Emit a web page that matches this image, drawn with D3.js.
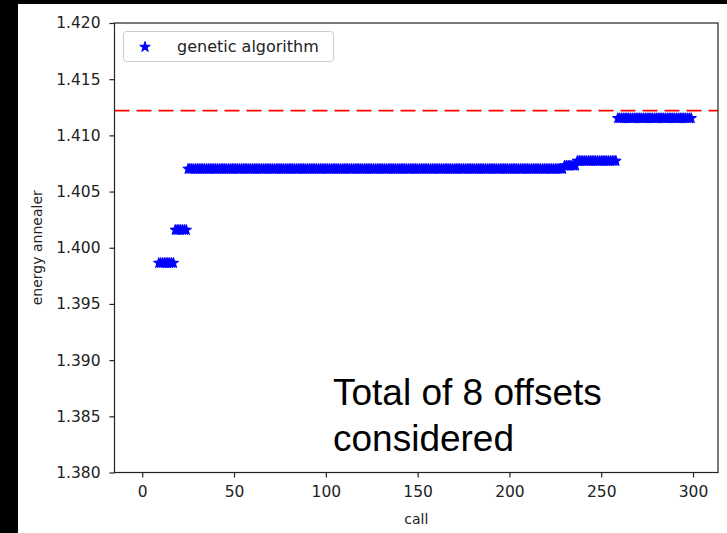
<!DOCTYPE html>
<html><head><meta charset="utf-8">
<script src="https://cdn.jsdelivr.net/npm/d3@7"></script>
<style>html,body{margin:0;padding:0;background:#fff}svg{display:block}</style>
</head><body>
<svg id="c" width="727" height="533"></svg>
<script>
// Data: runs of constant energy found by the genetic algorithm
const runStart  = [9, 18, 25, 230, 237, 259];
const runEnd    = [17, 24, 229, 236, 258, 299];
const runEnergy = [1.39864, 1.40158, 1.40701, 1.40730, 1.40772, 1.41152];
const refEnergy = 1.4122;
const xTicks = [0, 50, 100, 150, 200, 250, 300];
const yTicks = [1.380, 1.385, 1.390, 1.395, 1.400, 1.405, 1.410, 1.415, 1.420];
const seriesName = "genetic algorithm";
const noteLines = ["Total of 8 offsets", "considered"];

const points = [];
runStart.forEach((s, i) => { for (let c = s; c <= runEnd[i]; c++) points.push({call: c, e: runEnergy[i]}); });

const svg = d3.select("#c");
svg.append("rect").attr("width", 727).attr("height", 533).attr("fill", "#fff");
svg.append("rect").attr("x", 0).attr("y", 0).attr("width", 18).attr("height", 533).attr("fill", "#000");
svg.append("rect").attr("x", 0).attr("y", 0).attr("width", 727).attr("height", 4).attr("fill", "#000");

const L = 114.5, R = 718, T = 23, B = 472.5;
const x = d3.scaleLinear().domain([-15.1, 313.6]).range([L, R]);
const y = d3.scaleLinear().domain([1.380, 1.420]).range([B, T]);

const font = "DejaVu Sans, sans-serif";
// reference line
svg.append("line").attr("x1", L).attr("x2", R).attr("y1", y(refEnergy)).attr("y2", y(refEnergy))
  .attr("stroke", "#ff0000").attr("stroke-width", 1.8).attr("stroke-dasharray", "15,7");

// points
const star = d3.symbol().type(d3.symbolStar).size(34);
svg.append("g").selectAll("path").data(points).join("path")
  .attr("d", star).attr("transform", d => `translate(${x(d.call)},${y(d.e)})`)
  .attr("fill", "#0000ff").attr("stroke", "#0000ff").attr("stroke-width", 1);

// axes
const xa = svg.append("g").attr("transform", `translate(0,${B})`)
  .call(d3.axisBottom(x).tickValues(xTicks).tickSize(5).tickPadding(8).tickFormat(d3.format("d")));
const ya = svg.append("g").attr("transform", `translate(${L},0)`)
  .call(d3.axisLeft(y).tickValues(yTicks).tickSize(5).tickPadding(9).tickFormat(d3.format(".3f")));
[xa, ya].forEach(a => {
  a.select(".domain").remove();
  a.selectAll("line").attr("stroke", "#222").attr("stroke-width", 1.2);
  a.selectAll("text").attr("font-family", font).attr("font-size", 15.5).attr("fill", "#222");
});
svg.append("rect").attr("x", L).attr("y", T).attr("width", R - L).attr("height", B - T)
  .attr("fill", "none").attr("stroke", "#222").attr("stroke-width", 1.2);

// axis labels
svg.append("text").attr("x", (L + R) / 2).attr("y", 524).attr("text-anchor", "middle")
  .attr("font-family", font).attr("font-size", 14).attr("fill", "#222").text("call");
svg.append("text").attr("transform", `translate(42,${(T + B) / 2}) rotate(-90)`).attr("text-anchor", "middle")
  .attr("font-family", font).attr("font-size", 14).attr("fill", "#222").text("energy annealer");

// legend
svg.append("rect").attr("x", 123.5).attr("y", 31.5).attr("width", 210).attr("height", 30).attr("rx", 3)
  .attr("fill", "#fff").attr("stroke", "#ccc").attr("stroke-width", 1);
svg.append("path").attr("d", star).attr("transform", "translate(145,47)")
  .attr("fill", "#0000ff").attr("stroke", "#0000ff").attr("stroke-width", 1);
svg.append("text").attr("x", 177).attr("y", 52).attr("font-family", font).attr("font-size", 16)
  .attr("fill", "#222").text(seriesName);

// annotation
svg.append("g").selectAll("text").data(noteLines).join("text")
  .attr("x", 333).attr("y", (d, i) => 405 + i * 46)
  .attr("font-family", "Liberation Sans, Arial, sans-serif").attr("font-size", 37).attr("fill", "#000")
  .text(d => d);
</script>
</body></html>
